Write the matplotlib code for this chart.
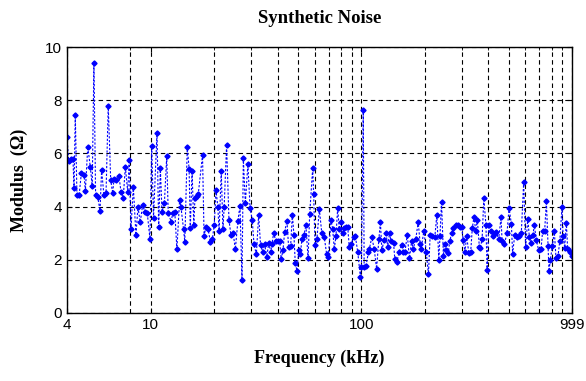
import matplotlib
matplotlib.use("Agg")
import matplotlib.pyplot as plt
from matplotlib.ticker import FixedLocator, NullFormatter

# frequency (kHz) and modulus (ohm)
freq_khz = [
    4.00, 4.08, 4.18, 4.27, 4.32, 4.38, 4.46, 4.57, 4.68, 4.82,
    4.89, 5.02, 5.16, 5.27, 5.37, 5.47, 5.60, 5.74, 5.84, 5.99,
    6.13, 6.28, 6.45, 6.59, 6.69, 6.81, 7.06, 7.22, 7.40, 7.57,
    7.77, 7.90, 8.05, 8.26, 8.50, 8.69, 8.91, 9.15, 9.38, 9.62,
    9.91, 10.1, 10.3, 10.7, 10.9, 11.1, 11.3, 11.6, 11.9, 12.1,
    12.5, 12.7, 13.0, 13.3, 13.7, 13.9, 14.3, 14.5, 14.9, 15.2,
    15.4, 15.7, 16.0, 16.2, 16.5, 16.8, 17.6, 17.9, 18.3, 18.7,
    19.2, 19.6, 20.0, 20.4, 20.8, 21.1, 21.6, 22.0, 22.3, 22.9,
    23.5, 24.0, 24.6, 25.2, 25.9, 26.5, 27.1, 27.5, 28.1, 28.9,
    29.6, 30.3, 30.9, 31.7, 32.5, 33.2, 34.0, 34.7, 35.5, 36.3,
    37.1, 37.6, 38.3, 39.2, 40.2, 40.9, 41.6, 42.4, 43.2, 44.3,
    45.1, 46.1, 47.0, 47.8, 48.5, 49.4, 50.4, 51.3, 52.2, 53.4,
    54.5, 55.8, 56.8, 58.7, 59.3, 60.2, 61.5, 63.1, 64.8, 66.6,
    68.4, 69.6, 71.7, 73.0, 74.3, 75.7, 77.1, 78.5, 80.0, 81.5,
    82.9, 84.5, 86.0, 87.6, 89.2, 91.9, 93.5, 96.0, 98.8, 100,
    102, 103, 105, 108, 109, 112, 115, 118, 121, 123,
    125, 128, 131, 133, 136, 138, 142, 144, 147, 151,
    155, 158, 161, 165, 169, 173, 176, 181, 186, 190,
    192, 198, 203, 208, 212, 217, 223, 228, 233, 236,
    240, 245, 248, 253, 258, 263, 268, 273, 280, 287,
    293, 299, 304, 310, 316, 323, 330, 336, 342, 349,
    355, 363, 367, 374, 381, 390, 395, 402, 412, 420,
    429, 437, 448, 460, 465, 477, 491, 502, 515, 522,
    534, 548, 562, 574, 589, 602, 616, 627, 638, 652,
    662, 676, 694, 712, 725, 741, 755, 769, 777, 788,
    806, 823, 839, 857, 874, 896, 906, 922, 939, 953,
    974, 999,
]
modulus = [
    6.60, 5.70, 5.79, 5.80, 4.69, 7.44, 4.44, 4.45, 5.25, 5.20,
    4.59, 6.25, 5.50, 4.78, 9.40, 4.43, 4.35, 3.85, 5.38, 4.43,
    4.50, 7.80, 5.00, 4.50, 5.05, 5.00, 5.15, 4.55, 4.34, 5.50,
    4.55, 5.75, 3.16, 4.75, 2.93, 3.98, 3.42, 4.06, 3.80, 3.76,
    2.78, 6.29, 3.58, 6.78, 3.25, 5.46, 3.81, 4.12, 5.90, 3.75,
    3.43, 3.75, 3.80, 2.40, 4.25, 4.00, 3.16, 2.68, 6.25, 5.40,
    3.20, 5.34, 3.30, 4.33, 4.40, 4.47, 5.94, 2.90, 3.25, 3.14,
    2.68, 2.78, 3.30, 4.62, 4.00, 3.10, 5.34, 3.14, 4.00, 6.32,
    3.50, 2.95, 3.00, 2.40, 3.45, 4.03, 1.24, 5.81, 4.12, 5.60,
    3.95, 3.50, 2.58, 2.20, 3.68, 2.55, 2.30, 2.60, 2.10, 2.62,
    2.30, 2.60, 3.00, 2.72, 2.72, 2.72, 2.03, 2.35, 3.06, 3.46,
    2.48, 2.50, 3.70, 2.93, 1.89, 1.59, 2.35, 2.20, 2.80, 2.95,
    3.30, 2.05, 3.73, 5.46, 4.46, 2.55, 2.80, 3.90, 3.02, 2.85,
    2.20, 2.10, 3.50, 3.17, 2.40, 2.90, 3.93, 3.15, 3.42, 3.00,
    3.20, 3.25, 3.25, 2.47, 2.60, 2.85, 2.90, 2.30, 1.37, 1.72,
    7.63, 1.74, 1.75, 2.30, 2.40, 2.85, 2.40, 1.67, 2.78, 3.42,
    2.35, 2.75, 3.02, 2.48, 3.00, 2.70, 2.65, 2.03, 1.90, 2.30,
    2.55, 2.30, 2.30, 2.95, 2.05, 2.70, 2.40, 2.77, 3.42, 2.60,
    2.40, 3.10, 2.30, 1.45, 2.95, 2.90, 2.85, 3.70, 2.00, 2.90,
    4.19, 2.15, 2.60, 2.35, 2.25, 2.72, 3.00, 3.20, 3.30, 3.32,
    3.25, 3.25, 2.75, 2.30, 2.90, 2.27, 2.28, 3.20, 3.60, 3.10,
    3.50, 2.47, 2.44, 2.80, 4.31, 3.30, 1.60, 3.30, 3.10, 2.90,
    3.00, 3.05, 2.77, 3.60, 2.72, 2.60, 3.00, 3.95, 3.35, 2.23,
    2.92, 2.85, 2.88, 3.00, 4.91, 2.47, 3.55, 2.85, 2.62, 2.95,
    3.30, 2.75, 2.35, 2.40, 3.10, 3.10, 4.20, 2.50, 1.57, 2.00,
    2.50, 3.10, 2.05, 2.13, 2.70, 4.00, 2.90, 2.45, 3.40, 2.40,
    2.30, 2.15,
]

x_major = [4, 10, 100, 999]
x_minor = [8, 20, 30, 40, 50, 60, 70, 80, 90, 200, 300, 400, 500, 600, 700, 800, 900]
y_ticks = [0, 2, 4, 6, 8, 10]

fig = plt.figure(figsize=(5.86, 3.81), dpi=100)
ax = fig.add_axes([0.1143, 0.1785, 0.8618, 0.6981])

ax.plot(freq_khz, modulus, color="#0000ff", linestyle=(0, (2, 1.5)), linewidth=0.8,
        marker="D", markersize=2.6, markerfacecolor="#0000ff", markeredgecolor="#0000ff")

ax.set_xscale("log")
ax.set_xlim(4, 999)
ax.set_ylim(0, 10)
ax.xaxis.set_major_locator(FixedLocator(x_major))
ax.xaxis.set_minor_locator(FixedLocator(x_minor))
ax.xaxis.set_minor_formatter(NullFormatter())
ax.set_xticklabels([str(v) for v in x_major])
ax.set_yticks(y_ticks)

ax.grid(True, which="both", color="k", linestyle=(0, (4, 3)), linewidth=0.8)
ax.tick_params(which="both", direction="in", top=True, right=True, labelsize=11)
ax.tick_params(which="minor", length=2)
for lab in ax.get_xticklabels() + ax.get_yticklabels():
    lab.set_family("Liberation Sans")
for sp in ax.spines.values():
    sp.set_linewidth(1.0)

ax.set_title("Synthetic Noise", family="Liberation Serif", fontweight="bold", fontsize=13.5, pad=17)
ax.set_xlabel("Frequency (kHz)", family="Liberation Serif", fontweight="bold", fontsize=13, labelpad=13)
ax.set_ylabel("Modulus  (\u03a9)", family="Liberation Serif", fontweight="bold", fontsize=13, labelpad=12)

fig.savefig("out.png", dpi=100)
